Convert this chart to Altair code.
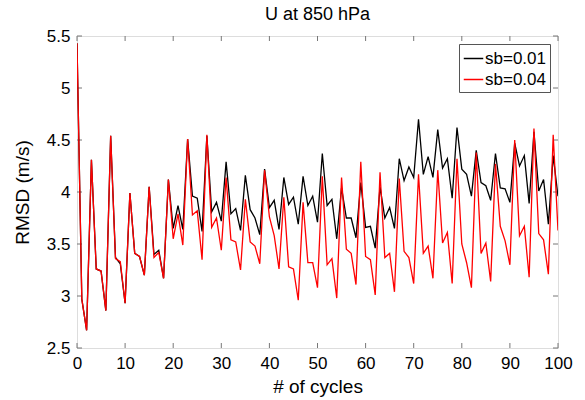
import altair as alt
import pandas as pd

cycles = list(range(101))

sb001 = [5.43, 2.97, 2.67, 4.31, 3.26, 3.24, 2.86, 4.54, 3.37, 3.31,
         2.93, 3.99, 3.41, 3.38, 3.20, 4.05, 3.40, 3.44, 3.17, 4.12,
         3.65, 3.87, 3.64, 4.51, 3.96, 3.94, 3.62, 4.54, 3.81, 3.90,
         3.72, 4.29, 3.79, 3.84, 3.63, 4.16, 3.83, 3.75, 3.59, 4.22,
         3.85, 3.92, 3.64, 4.14, 3.88, 3.95, 3.69, 4.15, 3.87, 3.96,
         3.71, 4.37, 3.87, 3.93, 3.55, 4.04, 3.75, 3.75, 3.56, 4.09,
         3.66, 3.67, 3.46, 4.05, 3.75, 3.85, 3.65, 4.32, 4.11, 4.24,
         4.14, 4.70, 4.17, 4.34, 4.14, 4.60, 4.23, 4.32, 3.94, 4.62,
         4.22, 4.17, 3.96, 4.40, 4.09, 4.06, 3.92, 4.37, 4.04, 4.03,
         3.90, 4.47, 4.25, 4.35, 3.89, 4.58, 4.01, 4.12, 3.69, 4.35,
         3.96]

sb004 = [5.43, 2.97, 2.67, 4.31, 3.26, 3.24, 2.86, 4.54, 3.36, 3.33,
         2.93, 3.99, 3.41, 3.38, 3.20, 4.05, 3.37, 3.42, 3.17, 4.12,
         3.55, 3.79, 3.49, 4.51, 3.78, 3.82, 3.35, 4.55, 3.66, 3.75,
         3.44, 4.14, 3.54, 3.52, 3.25, 3.93, 3.52, 3.48, 3.31, 4.21,
         3.76, 3.58, 3.26, 3.95, 3.28, 3.26, 2.96, 3.90, 3.32, 3.32,
         3.08, 4.15, 3.30, 3.36, 2.98, 4.14, 3.45, 3.41, 3.11, 4.29,
         3.38, 3.35, 3.01, 4.19, 3.37, 3.41, 3.04, 4.13, 3.43, 3.37,
         3.12, 4.17, 3.41, 3.48, 3.17, 4.21, 3.51, 3.61, 3.12, 4.32,
         3.50, 3.32, 3.08, 4.38, 3.41, 3.51, 3.14, 4.27, 3.67, 3.53,
         3.30, 4.50, 3.58, 3.67, 3.18, 4.61, 3.60, 3.54, 3.21, 4.55,
         3.63]

series_names = ["sb=0.01", "sb=0.04"]
series_colors = ["#000000", "#ff0000"]
x_ticks = list(range(0, 101, 10))
y_ticks = [2.5, 3.0, 3.5, 4.0, 4.5, 5.0, 5.5]

df = pd.DataFrame({
    "cycle": cycles * 2,
    "rmsd": sb001 + sb004,
    "series": [series_names[0]] * len(cycles) + [series_names[1]] * len(cycles),
})

W, H = 481, 312
FONT = "Liberation Sans"

xs = alt.Scale(domain=[0, 100], nice=False, zero=False)
ys = alt.Scale(domain=[2.5, 5.5], nice=False, zero=False)

lines = alt.Chart(df).mark_line(strokeWidth=1.3, clip=True).encode(
    x=alt.X("cycle:Q", scale=xs,
            axis=alt.Axis(values=x_ticks, title="# of cycles", ticks=False, domain=False,
                          grid=False, labelPadding=7, labelFontSize=17, titleFontSize=19,
                          titleFontWeight="normal", titlePadding=6, labelColor="#000",
                          titleColor="#000", labelFont=FONT, titleFont=FONT,
                          labelFlush=False, labelOverlap=False)),
    y=alt.Y("rmsd:Q", scale=ys,
            axis=alt.Axis(values=y_ticks, format="~g", title="RMSD (m/s)", ticks=False,
                          domain=False, grid=False, labelPadding=7, labelFontSize=17,
                          titleFontSize=19, titleFontWeight="normal", titlePadding=14,
                          labelColor="#000", titleColor="#000", labelFont=FONT,
                          titleFont=FONT, labelFlush=False, labelOverlap=False)),
    color=alt.Color("series:N",
                    scale=alt.Scale(domain=series_names, range=series_colors),
                    legend=alt.Legend(title=None, orient="top-right", offset=8,
                                      symbolType="stroke", symbolSize=380,
                                      symbolStrokeWidth=1.5, labelFontSize=17,
                                      labelFont=FONT, labelColor="#000",
                                      labelOffset=1, rowPadding=2, padding=4,
                                      strokeColor="#555", fillColor="#ffffff",
                                      cornerRadius=0)),
    order="series:N",
)

tick_len = 5
xt = pd.DataFrame({"x": x_ticks})
yt = pd.DataFrame({"y": y_ticks})
tick_color = "#777777"

bottom_ticks = alt.Chart(xt).mark_rule(color=tick_color, strokeWidth=1).encode(
    x=alt.X("x:Q", scale=xs), y=alt.value(H), y2=alt.value(H - tick_len))
top_ticks = alt.Chart(xt).mark_rule(color=tick_color, strokeWidth=1).encode(
    x=alt.X("x:Q", scale=xs), y=alt.value(0), y2=alt.value(tick_len))
left_ticks = alt.Chart(yt).mark_rule(color=tick_color, strokeWidth=1).encode(
    y=alt.Y("y:Q", scale=ys), x=alt.value(0), x2=alt.value(tick_len))
right_ticks = alt.Chart(yt).mark_rule(color=tick_color, strokeWidth=1).encode(
    y=alt.Y("y:Q", scale=ys), x=alt.value(W), x2=alt.value(W - tick_len))

chart = alt.layer(bottom_ticks, top_ticks, left_ticks, right_ticks, lines).properties(
    width=W, height=H,
    title=alt.Title("U at 850 hPa", fontSize=18, font=FONT, fontWeight="normal",
                    color="#000", offset=3, anchor="middle"),
    autosize=alt.AutoSizeParams(type="none"),
    padding={"left": 77, "top": 36, "right": 27, "bottom": 52},
).configure_view(stroke="#777777", strokeWidth=1).configure(background="white")

chart.save("out.html", embed_options={"renderer": "svg", "actions": False})
